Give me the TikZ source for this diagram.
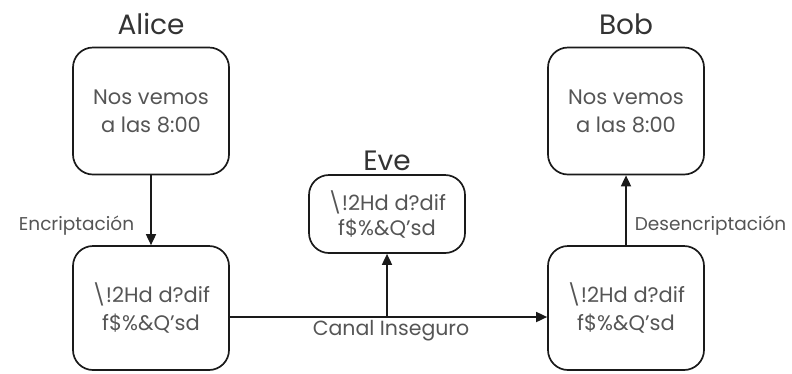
\documentclass[tikz,border=0pt]{standalone}
\usepackage{fontspec}
\setmainfont{Poppins}
\usetikzlibrary{arrows.meta}
\definecolor{ink}{HTML}{1A1A1A}
\definecolor{txt}{HTML}{555555}
\definecolor{head}{HTML}{333333}
\begin{document}
\begin{tikzpicture}[x=1pt,y=-1pt,
  msgbox/.style={draw=ink,line width=1.7pt,rounded corners=20pt,
    minimum width=156pt,align=center,text=txt,font=\fontsize{21}{28}\selectfont,inner sep=0pt},
  who/.style={text=head,font=\fontsize{28}{30}\selectfont,inner sep=0pt},
  lbl/.style={text=txt,font=\fontsize{18.5}{20}\selectfont,inner sep=0pt},
  link/.style={draw=ink,line width=1.7pt,-{Triangle[length=11pt,width=10pt]}}]
  \useasboundingbox (0,0) rectangle (792,373);
  % Alice
  \node[who] (alice) at (151,24) {Alice};
  \node[msgbox,minimum height=127pt] (aplain) at (151,111) {Nos vemos\\a las 8:00};
  \node[msgbox,minimum height=124pt] (acipher) at (151,308) {\textbackslash!2Hd d?dif\\f\$\%\&Q’sd};
  % Bob
  \node[who] (bob) at (626,24) {Bob};
  \node[msgbox,minimum height=127pt] (bplain) at (626,111) {Nos vemos\\a las 8:00};
  \node[msgbox,minimum height=124pt] (bcipher) at (626,308) {\textbackslash!2Hd d?dif\\f\$\%\&Q’sd};
  % Eve
  \node[who] (eve) at (387,161) {Eve};
  \node[msgbox,minimum height=78pt,font=\fontsize{21}{25}\selectfont] (ecipher) at (387,214) {\textbackslash!2Hd d?dif\\f\$\%\&Q’sd};
  % connectors
  \draw[link] (aplain) -- node[lbl,anchor=east,pos=0.72,xshift=-16pt] (enc) {Encriptación} (acipher);
  \draw[link] (bcipher) -- node[lbl,anchor=west,pos=0.28,xshift=8pt] (dec) {Desencriptación} (bplain);
  \draw[link] (acipher.east |- 0,317) coordinate (cstart) -- (bcipher.west |- 0,317) coordinate (cend);
  \coordinate (tap) at (387,317);
  \draw[link] (tap) -- (ecipher);
  \node[lbl,font=\fontsize{20.5}{22}\selectfont] (canal) at (391,331) {Canal Inseguro};
\end{tikzpicture}
\end{document}
